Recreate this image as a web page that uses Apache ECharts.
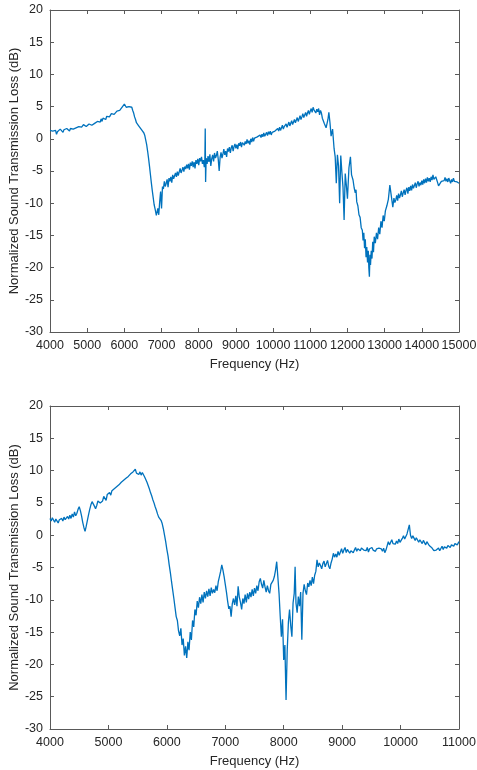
<!DOCTYPE html>
<html>
<head>
<meta charset="utf-8">
<script src="https://cdn.jsdelivr.net/npm/echarts@6/dist/echarts.min.js"></script>
<style>html,body{margin:0;padding:0;background:#fff}#c{width:477px;height:770px}</style>
</head>
<body>
<div id="c"></div>
<script>
// Top panel: frequency (Hz) / normalized STL (dB)
const topData = [
[4000,1.3],[4025,1.0],[4050,1.5],[4075,1.2],[4100,1.4],[4125,0.9],[4150,1.3],[4175,0.7],[4200,1.1],[4225,1.4],[4250,1.1],[4275,1.5],[4300,1.2],[4325,1.3],[4350,1.0],[4375,1.4],[4400,1.5],[4425,1.2],[4450,1.6],[4475,1.3],[4500,1.5],[4525,1.2],[4550,1.6],[4575,1.4],[4600,1.7],[4625,1.5],[4650,1.8],[4675,1.5],[4700,1.7],[4725,1.9],[4750,1.6],[4775,1.9],[4800,1.8],[4825,2.1],[4850,1.8],[4875,2.0],[4900,2.2],[4925,1.9],[4950,2.1],[4975,1.9],[5000,2.2],[5025,2.0],[5050,2.3],[5075,2.1],[5100,2.4],[5125,2.1],[5150,2.3],[5175,2.0],[5200,2.4],[5225,2.6],[5250,2.2],[5275,2.7],[5300,2.5],[5325,2.9],[5350,2.6],[5375,3.1],[5400,2.7],[5425,3.2],[5450,2.9],[5475,3.4],[5500,3.0],[5525,3.5],[5550,3.2],[5575,3.7],[5600,3.4],[5625,3.6],[5650,3.9],[5675,3.6],[5700,4.0],[5725,3.8],[5750,4.1],[5775,3.9],[5800,4.3],[5825,4.1],[5850,4.5],[5875,4.4],[5900,4.7],[5925,4.6],[5950,5.0],[5975,5.1],[6000,5.4],[6025,5.2],[6050,4.9],[6075,5.1],[6100,4.6],[6125,5.0],[6150,5.2],[6175,4.8],[6200,4.9],[6225,4.4],[6250,4.0],[6275,3.4],[6300,3.0],[6325,2.5],[6350,2.2],[6375,2.1],[6400,1.9],[6425,1.7],[6450,1.5],[6475,1.3],[6500,1.1],[6525,0.9],[6550,0.5],[6575,-0.2],[6600,-0.9],
[6625,-1.9],[6650,-3.0],[6675,-4.2],[6700,-5.5],[6725,-6.8],[6750,-8.0],[6775,-9.1],[6800,-10.2],[6830,-11.0],[6860,-11.9],[6880,-12.2],[6900,-10.8],[6925,-11.8],[6950,-9.8],[6975,-8.2],[7000,-10.8],[7025,-7.4],[7050,-7.8],
[7075,-6.6],[7100,-7.4],[7125,-6.9],[7150,-6.3],[7175,-7.5],[7200,-6.1],[7225,-6.6],[7250,-5.9],[7275,-6.8],[7300,-5.6],[7325,-6.2],[7350,-6.0],[7375,-5.3],[7400,-5.9],[7425,-5.1],[7450,-5.7],[7475,-5.4],[7500,-4.6],[7525,-5.3],[7550,-4.9],[7575,-4.4],[7600,-5.1],[7625,-4.3],[7650,-4.7],[7675,-4.0],[7700,-4.6],[7725,-3.9],[7750,-4.8],[7775,-3.7],[7800,-4.2],[7825,-3.5],[7850,-4.4],[7875,-3.6],[7900,-4.6],[7925,-3.3],[7950,-3.9],[7975,-3.1],[8000,-4.1],[8025,-3.0],[8050,-3.5],[8075,-2.8],[8100,-3.9],[8125,-3.3],[8150,-4.4],[8165,-3.2],[8175,1.6],[8185,-6.7],[8200,-3.0],[8225,-3.9],[8250,-2.7],[8275,-3.6],[8300,-2.4],[8325,-4.2],[8350,-3.1],[8375,-2.5],[8400,-3.5],[8425,-2.2],[8450,-3.0],[8475,-2.6],[8500,-1.9],[8525,-3.2],[8550,-5.0],[8575,-2.9],[8600,-2.1],[8625,-3.0],[8650,-2.4],[8675,-1.6],[8700,-2.5],[8725,-1.9],[8750,-2.8],[8775,-1.5],[8800,-2.0],[8825,-1.3],[8850,-2.2],[8875,-1.4],[8900,-1.0],[8925,-1.9],[8950,-1.2],[8975,-0.8],[9000,-1.5],[9025,-0.9],[9050,-1.6],[9075,-0.7],[9100,-1.1],[9125,-0.5],[9150,-1.3],[9175,-0.6],[9200,-0.3],[9225,-1.0],[9250,-0.4],[9275,-0.8],[9300,-0.1],[9325,-0.7],[9350,-0.3],[9375,-0.9],[9400,0.0],[9425,-0.5],[9450,0.2],[9475,-0.4],[9500,0.1],[9525,0.4],[9550,-0.2],[9575,0.3],[9600,0.5],[9625,0.0],[9650,0.6],[9675,0.2],[9700,0.7],[9725,0.3],[9750,0.9],[9775,0.4],[9800,0.6],[9825,1.0],[9850,0.5],[9875,1.1],[9900,0.7],[9925,1.2],[9950,0.6],[9975,1.0],[10000,1.3],[10025,0.8],[10050,1.2],[10075,1.5],[10100,1.0],[10125,1.6],[10150,1.2],[10175,1.8],[10200,1.3],[10225,1.7],[10250,2.1],[10275,1.5],[10300,1.9],[10325,1.6],[10350,2.3],[10375,1.8],[10400,2.1],[10425,2.6],[10450,2.0],[10475,2.4],[10500,2.8],[10525,2.2],[10550,2.6],[10575,3.0],[10600,2.5],[10625,2.8],[10650,3.3],[10675,2.7],[10700,3.1],[10725,3.6],[10750,3.0],[10775,3.4],[10800,3.9],[10825,3.3],[10850,3.6],[10875,4.1],[10900,3.5],[10925,4.0],[10950,4.4],[10975,3.8],[11000,4.3],[11025,4.7],[11050,4.1],[11075,4.9],[11100,4.5],[11125,4.8],[11150,4.0],[11175,4.6],[11200,4.2],[11225,4.7],[11250,3.7],[11275,4.4],[11300,4.0],[11325,3.2],[11350,3.0],[11375,2.4],[11400,2.2],[11425,1.7],[11450,1.8],[11475,3.0],[11500,4.1],[11530,2.5],[11560,0.4],[11600,1.5],[11640,-1.5],[11670,-2.8],[11700,-6.9],[11730,-2.5],[11760,-4.2],[11790,-10.0],[11820,-2.6],[11850,-5.2],[11880,-7.5],[11910,-12.6],[11940,-5.4],[11970,-7.2],[12000,-9.3],[12040,-4.5],[12080,-2.8],[12110,-5.6],[12150,-6.4],[12180,-7.6],[12210,-8.4],[12230,-7.9],[12250,-9.8],[12280,-10.4],[12310,-11.8],[12340,-12.2],[12370,-13.8],[12400,-14.2],[12420,-15.8],[12440,-14.6],[12460,-17.0],[12480,-15.6],[12500,-18.4],[12520,-16.8],[12540,-19.2],[12560,-17.4],[12575,-20.0],[12590,-21.4],[12605,-18.0],[12620,-19.6],[12640,-17.4],[12660,-18.6],[12680,-16.0],[12700,-17.6],[12720,-15.2],[12750,-16.2],[12780,-14.6],[12810,-15.6],[12840,-13.8],[12870,-14.8],[12900,-12.8],[12930,-13.8],[12960,-11.9],[12990,-12.8],[13020,-11.2],[13060,-10.4],[13100,-9.4],[13140,-7.2],[13180,-8.9],[13220,-10.6],[13250,-9.2],[13275,-9.9],[13300,-9.5],[13325,-8.8],[13350,-9.6],[13375,-8.5],[13400,-9.2],[13425,-8.7],[13450,-8.1],[13475,-9.0],[13500,-8.4],[13525,-7.9],[13550,-8.7],[13575,-8.0],[13600,-7.6],[13625,-8.5],[13650,-7.5],[13675,-8.1],[13700,-7.3],[13725,-8.0],[13750,-7.1],[13775,-7.7],[13800,-7.4],[13825,-6.8],[13850,-7.6],[13875,-7.0],[13900,-6.6],[13925,-7.4],[13950,-6.8],[13975,-7.2],[14000,-6.5],[14025,-7.1],[14050,-6.3],[14075,-6.9],[14100,-6.2],[14125,-6.8],[14150,-6.0],[14175,-6.6],[14200,-6.1],[14225,-6.7],[14250,-5.9],[14275,-6.4],[14300,-5.6],[14325,-6.3],[14350,-6.6],[14375,-5.9],[14400,-6.2],[14425,-6.8],[14450,-7.3],[14475,-7.6],[14500,-7.1],[14525,-6.6],[14550,-6.4],[14575,-6.9],[14600,-6.5],[14625,-6.0],[14650,-6.6],[14675,-6.2],[14700,-6.7],[14725,-6.1],[14750,-6.5],[14775,-6.9],[14800,-6.3],[14825,-6.7],[14850,-6.1],[14875,-6.6],[14900,-6.8],[14925,-6.3],[14950,-6.7],[14975,-6.5],[15000,-6.9]
];
// Bottom panel
const bottomData = [
[4000,2.6],[4020,2.2],[4040,2.7],[4060,2.4],[4080,2.0],[4100,2.5],[4120,2.3],[4140,1.9],[4160,2.4],[4180,2.1],[4200,2.6],[4220,2.2],[4240,2.8],[4260,2.4],[4280,2.1],[4300,2.9],[4320,2.5],[4340,3.1],[4360,2.6],[4380,3.3],[4400,2.8],[4420,3.6],[4440,3.0],[4460,3.4],[4480,4.0],[4500,4.4],[4520,3.8],[4540,3.0],[4560,2.0],[4580,1.2],[4600,0.6],[4620,1.4],[4640,2.3],[4660,3.2],[4680,4.0],[4700,4.7],[4720,5.2],[4740,5.0],[4760,4.5],[4780,4.1],[4800,4.6],[4820,5.3],[4840,5.6],[4860,5.0],[4880,4.7],[4900,5.3],[4920,6.0],[4940,5.7],[4960,5.4],[4980,6.3],[5000,6.1],[5020,6.6],[5040,6.2],[5060,6.9],[5080,6.6],[5100,7.2],[5120,6.9],[5140,7.5],[5160,7.2],[5180,7.8],[5200,7.6],[5220,8.2],[5240,7.9],[5260,8.5],[5280,8.3],[5300,8.8],[5320,8.6],[5340,9.1],[5360,8.9],[5380,9.5],[5400,9.2],[5420,9.8],[5440,9.5],[5460,10.2],[5480,9.6],[5500,9.9],[5520,9.4],[5540,9.8],[5560,9.3],[5580,9.7],[5600,9.4],[5620,9.0],[5640,8.9],[5660,8.2],[5680,7.7],[5700,7.2],[5720,6.6],[5740,6.1],[5760,5.5],[5780,5.0],[5800,4.4],[5820,3.9],[5840,3.3],[5860,2.8],[5880,2.6],[5900,2.3],[5920,1.8],[5940,1.0],[5960,0.0],[5980,-1.0],[6000,-2.2],[6020,-3.2],[6040,-4.6],[6060,-5.8],[6080,-7.2],[6100,-8.5],[6120,-9.8],[6140,-11.2],[6160,-12.6],[6180,-13.2],[6200,-14.8],[6220,-15.6],[6240,-14.4],[6260,-17.0],[6280,-16.0],[6300,-18.6],[6320,-17.2],[6340,-19.0],[6360,-16.5],[6380,-17.8],[6400,-15.0],[6420,-16.2],[6440,-13.2],[6460,-14.2],[6480,-11.5],[6500,-12.4],[6520,-10.2],[6540,-11.2],[6560,-9.6],[6580,-10.6],[6600,-9.2],[6620,-10.4],[6640,-8.8],[6660,-9.8],[6680,-8.6],[6700,-9.5],[6720,-8.3],[6740,-9.4],[6760,-8.1],[6780,-9.0],[6800,-8.4],[6820,-8.9],[6840,-7.8],[6860,-8.6],[6880,-7.2],[6900,-6.4],[6920,-5.6],[6940,-4.6],[6960,-5.4],[6980,-6.4],[7000,-7.6],[7020,-8.8],[7040,-10.2],[7060,-11.4],[7080,-11.0],[7100,-12.6],[7120,-10.6],[7140,-9.8],[7160,-10.8],[7180,-9.4],[7200,-11.0],[7220,-7.9],[7240,-9.6],[7260,-10.4],[7280,-11.5],[7300,-9.8],[7320,-10.6],[7340,-9.2],[7360,-10.4],[7380,-9.0],[7400,-9.9],[7420,-8.8],[7440,-9.6],[7460,-8.4],[7480,-9.4],[7500,-8.2],[7520,-9.0],[7540,-7.8],[7560,-8.6],[7580,-7.2],[7600,-6.7],[7620,-7.6],[7640,-8.2],[7660,-7.0],[7680,-8.0],[7700,-8.8],[7720,-7.8],[7740,-8.6],[7760,-9.0],[7780,-7.6],[7800,-7.9],[7820,-7.0],[7840,-6.4],[7860,-5.4],[7880,-4.1],[7900,-6.5],[7920,-9.0],[7940,-12.5],[7960,-15.7],[7980,-13.0],[8000,-19.3],[8020,-17.0],[8040,-25.5],[8060,-17.8],[8080,-13.5],[8100,-11.5],[8120,-14.0],[8140,-15.7],[8160,-10.5],[8180,-9.0],[8195,-4.9],[8210,-10.5],[8230,-12.0],[8250,-9.5],[8270,-11.0],[8290,-8.8],[8310,-16.2],[8330,-9.0],[8350,-7.6],[8370,-8.6],[8390,-9.2],[8410,-7.4],[8430,-8.0],[8450,-7.0],[8470,-7.8],[8490,-6.5],[8510,-7.5],[8530,-6.2],[8550,-5.6],[8570,-3.8],[8590,-4.9],[8610,-4.3],[8630,-4.7],[8650,-5.2],[8670,-4.4],[8690,-4.0],[8710,-4.9],[8730,-4.4],[8750,-3.9],[8770,-4.8],[8790,-5.2],[8810,-4.3],[8830,-3.7],[8850,-2.8],[8870,-3.4],[8890,-2.9],[8910,-3.4],[8930,-2.5],[8950,-3.1],[8970,-2.6],[8990,-2.1],[9010,-2.8],[9030,-2.3],[9050,-1.9],[9070,-2.7],[9090,-2.2],[9110,-2.0],[9130,-2.8],[9150,-2.4],[9170,-2.1],[9190,-2.7],[9210,-2.3],[9230,-1.9],[9250,-2.5],[9270,-2.1],[9290,-1.8],[9310,-2.4],[9330,-2.0],[9350,-1.7],[9370,-2.3],[9390,-2.0],[9410,-2.4],[9430,-1.9],[9450,-2.6],[9470,-2.1],[9490,-2.4],[9510,-1.9],[9530,-2.3],[9550,-2.0],[9570,-2.5],[9590,-2.1],[9610,-2.4],[9630,-2.0],[9650,-2.3],[9670,-2.1],[9690,-2.5],[9710,-2.0],[9730,-2.7],[9750,-2.3],[9770,-2.6],[9790,-1.0],[9810,-1.5],[9830,-1.1],[9850,-0.7],[9870,-1.3],[9890,-1.0],[9910,-1.4],[9930,-0.9],[9950,-1.3],[9970,-0.6],[9990,-1.1],[10010,-0.8],[10030,-0.5],[10050,-0.1],[10070,-0.6],[10090,-0.3],[10110,0.2],[10130,0.5],[10150,1.6],[10170,0.0],[10190,-0.5],[10210,-0.1],[10230,-0.3],[10250,-0.8],[10270,-0.4],[10290,-0.6],[10310,-1.1],[10330,-0.7],[10350,-0.9],[10370,-1.3],[10390,-0.8],[10410,-1.1],[10430,-1.5],[10450,-1.0],[10470,-1.3],[10490,-1.6],[10510,-1.4],[10530,-1.9],[10550,-2.1],[10570,-2.4],[10590,-2.7],[10610,-2.3],[10630,-2.6],[10650,-2.0],[10670,-2.4],[10690,-2.1],[10710,-1.7],[10730,-2.2],[10750,-1.8],[10770,-1.5],[10790,-2.0],[10810,-1.6],[10830,-1.4],[10850,-1.9],[10870,-1.5],[10890,-1.2],[10910,-1.7],[10930,-1.3],[10950,-1.0],[10970,-1.5],[10990,-1.2],[11000,-1.0]
];
const xLabel = 'Frequency (Hz)';
const yLabel = 'Normalized Sound Transmission Loss (dB)';

const chart = echarts.init(document.getElementById('c'), null, {renderer:'canvas'});
const axisCol = '#595959', textCol = '#262626', font = 'Liberation Sans, Arial, Helvetica, sans-serif';
function xAx(gi, max, pos, show) {
  return {type:'value', gridIndex:gi, min:4000, max:max, interval:1000, position:pos,
    name: show ? xLabel : '', nameLocation:'middle', nameGap:26, nameMoveOverlap:false,
    nameTextStyle:{color:textCol, fontSize:13, fontFamily:font},
    axisLine:{show:true, onZero:false, lineStyle:{color:axisCol, width:1}},
    axisTick:{show:true, inside:true, length:4, lineStyle:{color:axisCol}},
    axisLabel:{show:show, color:textCol, fontSize:12.5, fontFamily:font, margin:7,
      formatter:function(v){return String(v);}, showMinLabel:true, showMaxLabel:true, hideOverlap:false},
    splitLine:{show:false}};
}
function yAx(gi, pos, show) {
  return {type:'value', gridIndex:gi, min:-30, max:20, interval:5, position:pos,
    name: show ? yLabel : '', nameLocation:'middle', nameGap:29, nameRotate:90, nameMoveOverlap:false,
    nameTextStyle:{color:textCol, fontSize:13, fontFamily:font},
    axisLine:{show:true, onZero:false, lineStyle:{color:axisCol, width:1}},
    axisTick:{show:true, inside:true, length:4, lineStyle:{color:axisCol}},
    axisLabel:{show:show, color:textCol, fontSize:12.5, fontFamily:font, margin:7,
      showMinLabel:true, showMaxLabel:true},
    splitLine:{show:false}};
}
chart.setOption({
  animation:false,
  backgroundColor:'#fff',
  grid:[{left:50, top:10, width:409, height:322, outerBoundsMode:'none', containLabel:false},
        {left:50, top:406, width:409, height:323, outerBoundsMode:'none', containLabel:false}],
  xAxis:[xAx(0,15000,'bottom',true), xAx(0,15000,'top',false), xAx(1,11000,'bottom',true), xAx(1,11000,'top',false)],
  yAxis:[yAx(0,'left',true), yAx(0,'right',false), yAx(1,'left',true), yAx(1,'right',false)],
  series:[
    {type:'line', xAxisIndex:0, yAxisIndex:0, data:topData, showSymbol:false, lineStyle:{color:'#0072BD', width:1.3}, sampling:null},
    {type:'line', xAxisIndex:2, yAxisIndex:2, data:bottomData, showSymbol:false, lineStyle:{color:'#0072BD', width:1.3}, sampling:null}
  ]
});
</script>
</body>
</html>
